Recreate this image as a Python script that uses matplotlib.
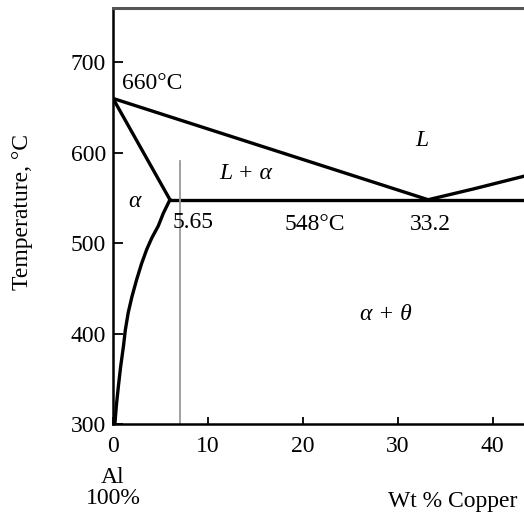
import matplotlib
matplotlib.use("Agg")
import matplotlib.pyplot as plt

plt.rcParams['font.family'] = ['Liberation Serif', 'DejaVu Serif']

# phase boundaries (wt % Cu, deg C)
liquidus_x = [0.0, 33.2]
liquidus_T = [660, 548]
liquidus2_x = [33.2, 38.0, 43.3]
liquidus2_T = [548, 560, 574]
solidus_x = [0.0, 6.0]
solidus_T = [660, 548]
solvus_x = [6.0, 5.3, 4.77, 4.1, 3.55, 3.0, 2.5, 2.0, 1.6, 1.3, 1.1, 0.8, 0.56, 0.35, 0.2]
solvus_T = [548, 533, 519, 506, 493, 477, 460, 441, 423, 404, 386, 363, 341, 320, 300]
eutectic_x = [6.0, 43.3]
eutectic_T = [548, 548]
alloy_x = 7.05
alloy_T = [300, 591]

xticks = [0, 10, 20, 30, 40]
yticks = [300, 400, 500, 600, 700]

fs = 17

fig = plt.figure(figsize=(5.24, 5.2), dpi=100)
ax = fig.add_axes([113 / 524, 96 / 520, 1 - 113 / 524, 416 / 520])

lw = 2.4
ax.plot(liquidus_x, liquidus_T, color='black', lw=lw)
ax.plot(liquidus2_x, liquidus2_T, color='black', lw=lw)
ax.plot(solidus_x, solidus_T, color='black', lw=lw)
ax.plot(solvus_x, solvus_T, color='black', lw=lw, solid_joinstyle='round')
ax.plot(eutectic_x, eutectic_T, color='black', lw=lw)
ax.plot([alloy_x, alloy_x], alloy_T, color='#999999', lw=1.3)

ax.set_xlim(0, 43.3)
ax.set_ylim(300, 760)

ax.spines['right'].set_visible(False)
ax.spines['left'].set_linewidth(1.8)
ax.spines['bottom'].set_linewidth(1.8)
ax.spines['top'].set_linewidth(2.2)
ax.spines['top'].set_color('#555555')

ax.set_xticks(xticks)
ax.set_yticks(yticks)
ax.tick_params(axis='both', direction='in', labelsize=fs, width=1.3)
ax.tick_params(axis='y', length=7, pad=5)
ax.tick_params(axis='x', length=5, pad=9)

ax.set_ylabel('Temperature, °C', fontsize=fs)
ax.yaxis.set_label_coords(-0.195, 0.51)

# labels in the chart
ax.text(0.95, 677, '660°C', fontsize=fs, ha='left', va='center')
ax.text(32.5, 613, 'L', fontsize=fs, style='italic', ha='center', va='center')
ax.text(14.0, 577, 'L + α', fontsize=fs, style='italic', ha='center', va='center')
ax.text(2.3, 546, 'α', fontsize=fs, style='italic', ha='center', va='center')
ax.text(6.3, 523, '5.65', fontsize=fs, ha='left', va='center')
ax.text(21.3, 521, '548°C', fontsize=fs, ha='center', va='center')
ax.text(33.4, 521, '33.2', fontsize=fs, ha='center', va='center')
ax.text(28.8, 421, 'α + θ', fontsize=fs, style='italic', ha='center', va='center')

fig.text(113 / 524, 1 - 488 / 520, 'Al\n100%', fontsize=fs, ha='center',
         va='center', linespacing=1.0)
fig.text(453 / 524, 1 - 502 / 520, 'Wt % Copper', fontsize=fs, ha='center',
         va='center')

fig.savefig('out.png', dpi=100)
